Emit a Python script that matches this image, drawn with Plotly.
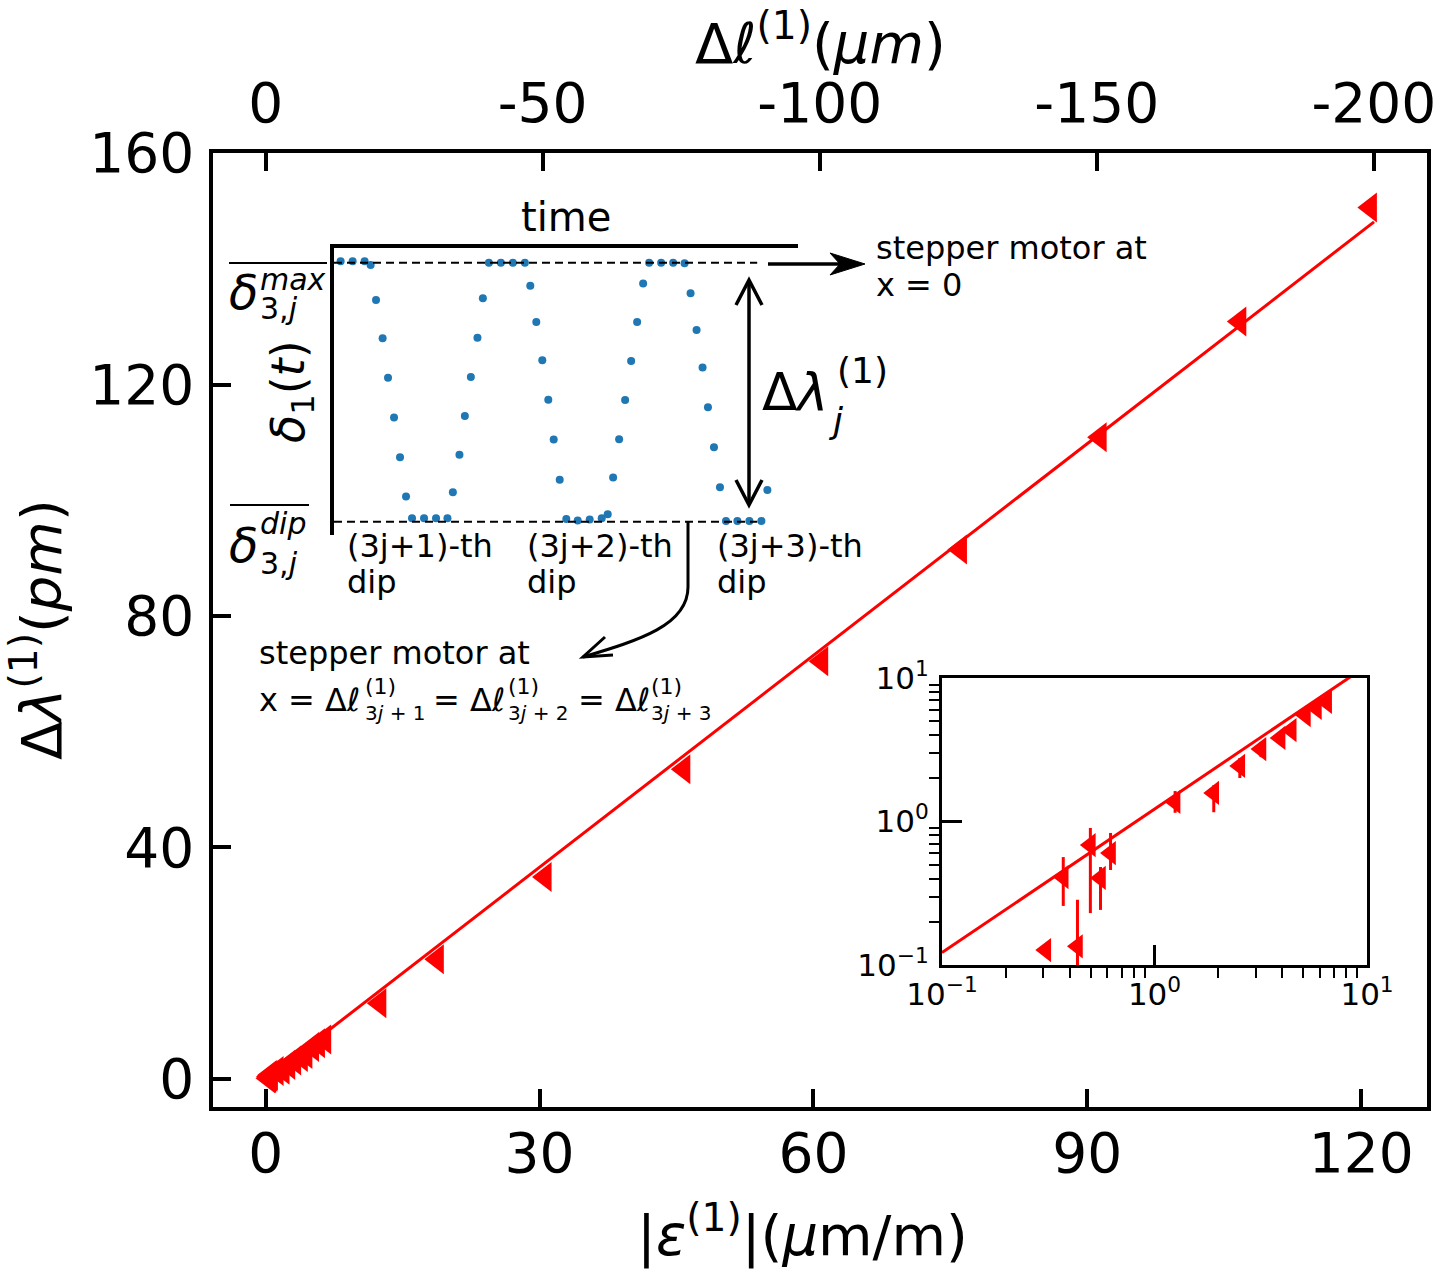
import plotly.graph_objects as go

# main data: |strain| (um/m) vs Bragg wavelength shift (pm)
strain = [0.308, 0.434, 0.372, 0.499, 0.621, 0.557, 1.25, 1.90, 2.52, 3.17, 3.90, 4.40, 5.13, 5.78, 6.46,
          12.5, 18.8, 30.6, 45.8, 60.9, 76.1, 91.4, 106.7, 121.0]
shift = [0.127, 0.135, 0.41, 0.685, 0.603, 0.404, 1.37, 1.58, 2.44, 3.20, 3.82, 4.34, 5.52, 6.18, 6.81,
         13.1, 20.7, 34.9, 53.5, 72.2, 91.5, 110.9, 130.9, 150.6]
# error bars of the low-strain points (shown in the log inset)
err_up = [0.0, 0.15, 0.155, 0.217, 0.229, 0.078, 0.26, 0.21, 0.33, 0.38, 0.2, 0.2, 0.2, 0.2, 0.2]
err_dn = [0.0, 0.15, 0.152, 0.455, 0.144, 0.162, 0.22, 0.42, 0.43, 0.39, 0.2, 0.2, 0.2, 0.2, 0.2]
n_small = 15

# linear fit drawn in main plot and inset
fit_x = [0.308, 121.4]
fit_y = [0.376, 148.1]
inset_fit_x = [0.1, 10.0]
inset_fit_y = [0.122, 12.2]

# axis ticks
x_ticks = [0, 30, 60, 90, 120]
y_ticks = [0, 40, 80, 120, 160]
dl_ticks = [0, -50, -100, -150, -200]
dl_labels = ["0", "-50", "-100", "-150", "-200"]
log_ticks = [0.1, 1, 10]
log_labels = ["10<sup>−1</sup>", "10<sup>0</sup>", "10<sup>1</sup>"]
log_minor = [0.2, 0.3, 0.4, 0.5, 0.6, 0.7, 0.8, 0.9, 2, 3, 4, 5, 6, 7, 8, 9]

# schematic: delta_1(t) samples
sch_t = [1.1, 3.1, 5.1, 6.1, 7.0, 8.1, 9.0, 10.0, 11.0, 12.0, 13.0, 15.0, 17.0, 18.9,
         19.8, 20.9, 21.8, 22.8, 23.9, 24.8, 25.8, 27.8, 29.8, 31.8, 32.7, 33.7, 34.7, 35.7,
         36.6, 37.6, 38.7, 40.6, 42.6, 44.6, 45.6, 46.5, 47.5, 48.5, 49.5, 50.5, 51.5, 52.5,
         54.5, 56.5, 58.4, 59.4, 60.4, 61.4, 62.3, 63.3, 64.3, 65.3, 67.2, 69.2, 71.2, 72.2]
sch_d = [1.006, 1.006, 1.006, 0.991, 0.856, 0.708, 0.556, 0.402, 0.249, 0.097, 0.013, 0.013, 0.013, 0.013,
         0.114, 0.258, 0.408, 0.559, 0.71, 0.863, 1.0, 1.0, 1.0, 1.0, 0.911, 0.771, 0.623, 0.471,
         0.317, 0.162, 0.01, 0.005, 0.008, 0.013, 0.029, 0.171, 0.318, 0.47, 0.62, 0.771, 0.92, 1.0,
         1.0, 1.0, 0.998, 0.882, 0.74, 0.595, 0.442, 0.287, 0.133, 0.003, 0.003, 0.003, 0.003, 0.122]

RED = "#ff0000"
FONT = "DejaVu Sans"
W, H = 1433, 1272
L, R, T, B = 213, 6, 153, 165


def P(x, y):
    # pixel -> paper coordinates
    return (x - L) / (W - L - R), (H - B - y) / (H - T - B)


def txt(x, y, text, size, xanchor="left", angle=0):
    px, py = P(x, y)
    return dict(x=px, y=py, xref="paper", yref="paper", text=text, showarrow=False,
                xanchor=xanchor, yanchor="middle", textangle=angle,
                font=dict(family=FONT, size=size, color="black"))


def path(pts, close=False):
    s = ""
    for i, (x, y) in enumerate(pts):
        px, py = P(x, y)
        s += ("M" if i == 0 else "L") + f"{px:.5f},{py:.5f}"
    return s + ("Z" if close else "")


fig = go.Figure()

# main plot
fig.add_trace(go.Scatter(x=fit_x, y=fit_y, mode="lines", line=dict(color=RED, width=3)))
fig.add_trace(go.Scatter(x=strain, y=shift, mode="markers",
                         marker=dict(symbol="triangle-left", size=26, color=RED, line=dict(width=0))))
# dummy trace so the top axis is drawn
fig.add_trace(go.Scatter(x=dl_ticks, y=[0] * len(dl_ticks), xaxis="x2", yaxis="y", mode="markers",
                         marker=dict(opacity=0), hoverinfo="skip"))

# schematic
fig.add_trace(go.Scatter(x=sch_t, y=sch_d, xaxis="x3", yaxis="y3", mode="markers",
                         marker=dict(color="#1f77b4", size=8)))

# log inset
fig.add_trace(go.Scatter(x=inset_fit_x, y=inset_fit_y, xaxis="x4", yaxis="y4", mode="lines",
                         line=dict(color=RED, width=3)))
fig.add_trace(go.Scatter(x=strain[:n_small], y=shift[:n_small], xaxis="x4", yaxis="y4", mode="markers",
                         marker=dict(symbol="triangle-left", size=21, color=RED, line=dict(width=0)),
                         error_y=dict(type="data", array=err_up, arrayminus=err_dn, symmetric=False,
                                      color=RED, thickness=3, width=0)))

ax_common = dict(showgrid=False, zeroline=False, showline=True, linecolor="black", linewidth=3.5,
                 ticks="inside", ticklen=18, tickwidth=3.5, tickcolor="black", automargin=False,
                 ticklabeloverflow="allow",
                 tickfont=dict(family=FONT, size=55, color="black"))

ins_common = dict(type="log", range=[-1, 1], showgrid=False, zeroline=False, showline=True,
                  linecolor="black", linewidth=3, mirror=True, ticks="inside", ticklen=20,
                  tickwidth=3, tickcolor="black", tickvals=log_ticks, automargin=False,
                  ticktext=log_labels, ticklabeloverflow="allow",
                  tickfont=dict(family=FONT, size=31, color="black"),
                  minor=dict(ticks="outside", ticklen=10, tickwidth=2, tickcolor="black",
                             tickvals=log_minor, showgrid=False))

fig.update_layout(
    width=W, height=H, margin=dict(l=L, r=R, t=T, b=B, autoexpand=False),
    paper_bgcolor="white", plot_bgcolor="white", showlegend=False,
    xaxis=dict(range=[-5.77, 127.2], tickvals=x_ticks, mirror=True, domain=[0, 1],
               ticklabelstandoff=-5, **ax_common),
    yaxis=dict(range=[-4.84, 160], tickvals=y_ticks, mirror=True, domain=[0, 1],
               ticklabelstandoff=4, **ax_common),
    xaxis2=dict(overlaying="x", side="top", anchor="y", range=[9.5, -209.6], tickvals=dl_ticks,
                ticktext=dl_labels, ticklabelstandoff=5, **ax_common),
    xaxis3=dict(domain=[0.09967, 0.48188], anchor="y3", side="top", range=[0, 77.3],
                showline=True, linecolor="black", linewidth=3.5, showgrid=False, zeroline=False,
                ticks="", showticklabels=False),
    yaxis3=dict(domain=[0.59958, 0.90042], anchor="x3", range=[-0.0514, 1.0568],
                showline=True, linecolor="black", linewidth=3.5, showgrid=False, zeroline=False,
                ticks="", showticklabels=False),
    xaxis4=dict(domain=[0.6005, 0.9506], anchor="y4", **ins_common),
    yaxis4=dict(domain=[0.14885, 0.44969], anchor="x4", ticklabelstandoff=4, **ins_common),
)

shapes = []
# dashed levels in the schematic
for lvl in [0, 1]:
    shapes.append(dict(type="line", xref="x3", yref="y3", x0=0, x1=70.5, y0=lvl, y1=lvl,
                       line=dict(color="black", width=2, dash="8px,5px")))
# overlines of the level labels
shapes.append(dict(type="path", xref="paper", yref="paper", path=path([(229, 263), (327, 263)]),
                   line=dict(color="black", width=2)))
shapes.append(dict(type="path", xref="paper", yref="paper", path=path([(230, 505), (309, 505)]),
                   line=dict(color="black", width=2)))
# arrow to "stepper motor at x = 0"
shapes.append(dict(type="path", xref="paper", yref="paper", path=path([(768, 264), (845, 264)]),
                   line=dict(color="black", width=3.5)))
shapes.append(dict(type="path", xref="paper", yref="paper",
                   path=path([(865, 264), (830, 253), (840, 264), (830, 275)], close=True),
                   fillcolor="black", line=dict(color="black", width=1)))
# double arrow for the wavelength jump
shapes.append(dict(type="path", xref="paper", yref="paper", path=path([(749, 281), (749, 504)]),
                   line=dict(color="black", width=3.5)))
shapes.append(dict(type="path", xref="paper", yref="paper",
                   path=path([(736, 305), (749, 280), (762, 305)]), line=dict(color="black", width=3.5)))
shapes.append(dict(type="path", xref="paper", yref="paper",
                   path=path([(736, 480), (749, 505), (762, 480)]), line=dict(color="black", width=3.5)))
# curved arrow to "stepper motor at x = ..."
p0 = P(688, 521)
p1 = P(688, 587)
c1 = P(688, 625)
c2 = P(640, 640)
p2 = P(583, 657)
curve = (f"M{p0[0]:.5f},{p0[1]:.5f}L{p1[0]:.5f},{p1[1]:.5f}"
         f"C{c1[0]:.5f},{c1[1]:.5f} {c2[0]:.5f},{c2[1]:.5f} {p2[0]:.5f},{p2[1]:.5f}")
shapes.append(dict(type="path", xref="paper", yref="paper", path=curve,
                   line=dict(color="black", width=3)))
shapes.append(dict(type="path", xref="paper", yref="paper",
                   path=path([(613, 655), (583, 657), (605, 637)]), line=dict(color="black", width=3)))

ann = [
    # axis titles
    txt(37, 630, "Δ<i>λ</i><sup>(1)</sup>(<i>pm</i>)", 56, "center", -90),
    txt(802, 1232, "|<i>ε</i><sup>(1)</sup>|(<i>μ</i>m/m)", 56, "center"),
    txt(820, 40, "Δ<i>ℓ</i><sup>(1)</sup>(<i>μm</i>)", 56, "center"),
    # schematic labels
    txt(566, 217, "time", 40, "center"),
    txt(291, 392, "<i>δ</i><sub>1</sub>(<i>t</i>)", 46, "center", -90),
    txt(227, 292, "<i>δ</i>", 48),
    txt(258, 279, "<i>max</i>", 30),
    txt(258, 308, "3,<i>j</i>", 30),
    txt(227, 545, "<i>δ</i>", 48),
    txt(258, 523, "<i>dip</i>", 30),
    txt(258, 563, "3,<i>j</i>", 30),
    txt(874, 248, "stepper motor at", 32),
    txt(874, 285, "x = 0", 32),
    txt(760, 392, "Δ<i>λ</i>", 52),
    txt(835, 370, "(1)", 36),
    txt(826, 420, "<i>j</i>", 36),
    txt(345, 546, "(3j+1)-th", 32),
    txt(345, 582, "dip", 32),
    txt(525, 546, "(3j+2)-th", 32),
    txt(525, 582, "dip", 32),
    txt(715, 546, "(3j+3)-th", 32),
    txt(715, 582, "dip", 32),
    txt(257, 653, "stepper motor at", 32),
    txt(257, 700, "x = Δ<i>ℓ</i>", 32),
    txt(363, 686, "(1)", 22),
    txt(363, 713, "3<i>j</i> + 1", 20),
    txt(431, 700, "= Δ<i>ℓ</i>", 32),
    txt(506, 686, "(1)", 22),
    txt(506, 713, "3<i>j</i> + 2", 20),
    txt(576, 700, "= Δ<i>ℓ</i>", 32),
    txt(649, 686, "(1)", 22),
    txt(649, 713, "3<i>j</i> + 3", 20),
]

fig.update_layout(shapes=shapes, annotations=ann)

fig.write_html("out.html", config={"displayModeBar": False},
               post_script="document.body.style.margin='0px';")
